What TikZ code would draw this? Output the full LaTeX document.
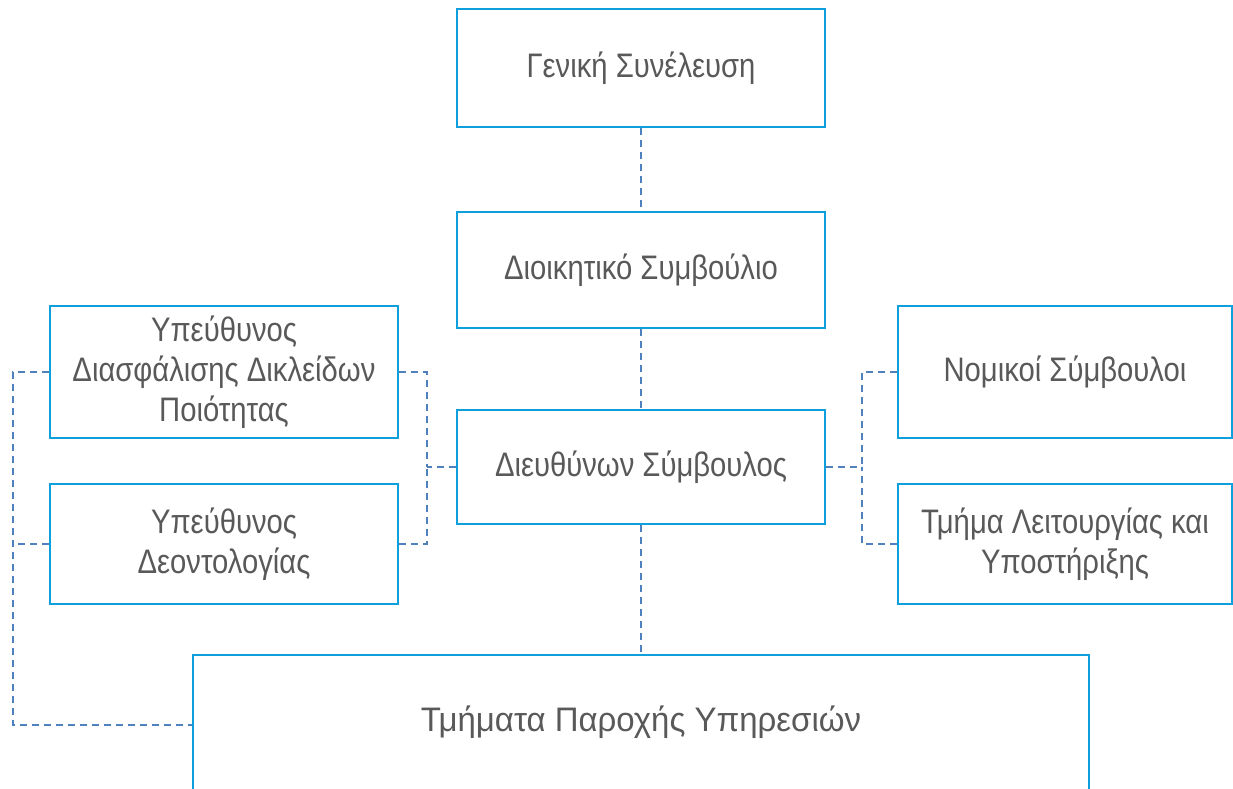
\documentclass[tikz,border=0pt]{standalone}
\usepackage{fontspec}
\setmainfont{Liberation Sans}[FakeStretch=0.86]
\newfontfamily\widefont{Liberation Sans}[FakeStretch=0.97]
\definecolor{boxblue}{RGB}{14,160,220}
\definecolor{linkblue}{RGB}{79,129,189}
\definecolor{txtgray}{RGB}{89,89,89}
\begin{document}
\begin{tikzpicture}[x=1pt,y=-1pt,
  orgbox/.style={draw=boxblue, line width=2pt, fill=white, rectangle, align=center,
    text=txtgray, inner sep=0pt, font=\fontsize{34pt}{40pt}\selectfont},
  conn/.style={draw=linkblue, line width=2.2pt, dash pattern=on 7pt off 5pt}]
\useasboundingbox (0,0) rectangle (1233,789);
\node[orgbox, minimum width=368pt, minimum height=118pt] (gs) at (641,68) {Γενική Συνέλευση};
\node[orgbox, minimum width=368pt, minimum height=116pt] (ds) at (641,270) {Διοικητικό Συμβούλιο};
\node[orgbox, minimum width=368pt, minimum height=114pt] (dsy) at (641,467) {Διευθύνων Σύμβουλος};
\node[orgbox, minimum width=348pt, minimum height=132pt] (q1) at (224,372) {Υπεύθυνος\\Διασφάλισης Δικλείδων\\Ποιότητας};
\node[orgbox, minimum width=348pt, minimum height=120pt] (q2) at (224,544) {Υπεύθυνος\\Δεοντολογίας};
\node[orgbox, minimum width=334pt, minimum height=132pt] (n1) at (1065,372) {Νομικοί Σύμβουλοι};
\node[orgbox, minimum width=334pt, minimum height=120pt] (n2) at (1065,544) {Τμήμα Λειτουργίας και\\Υποστήριξης};
\node[orgbox, minimum width=896pt, minimum height=140pt] (tp) at (641,725) {};
\node[text=txtgray, font=\widefont\fontsize{34pt}{40pt}\selectfont] (tpt) at (641,722) {Τμήματα Παροχής Υπηρεσιών};
\coordinate (lx) at (427,467);
\coordinate (ol) at (13,544);
\coordinate (rx) at (862,467);
\draw[conn] (gs.south) -- (ds.north);
\draw[conn] (ds.south) -- (dsy.north);
\draw[conn] (dsy.south) -- (tp.north);
\draw[conn] (dsy.west) -- (lx);
\draw[conn] (q1.east) -| (lx);
\draw[conn] (q2.east) -| (lx);
\draw[conn] (q1.west) -| (ol) |- (tp.west);
\draw[conn] (q2.west) -- (ol);
\draw[conn] (dsy.east) -- (rx);
\draw[conn] (n1.west) -| (rx);
\draw[conn] (n2.west) -| (rx);
\end{tikzpicture}
\end{document}
